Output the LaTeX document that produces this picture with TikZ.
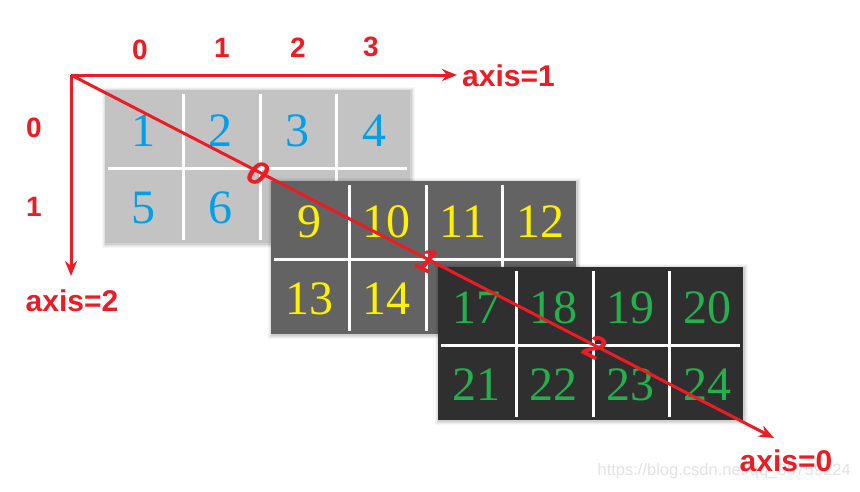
\documentclass[tikz,border=0pt]{standalone}
\usepackage{fontspec}
\setmainfont{Liberation Serif}
\newfontfamily\labfont{Liberation Sans}
\newfontfamily\wmfont{Liberation Sans}
\usetikzlibrary{arrows.meta}
\definecolor{axred}{RGB}{237,28,36}
\definecolor{pan1}{RGB}{195,195,195}
\definecolor{pan2}{RGB}{99,99,99}
\definecolor{pan3}{RGB}{47,47,47}
\definecolor{numblue}{RGB}{0,160,233}
\definecolor{numyellow}{RGB}{255,242,0}
\definecolor{numgreen}{RGB}{34,177,76}
\tikzset{
  gridline/.style={white,line width=3pt},
  numtext/.style={font=\fontsize{48}{48}\selectfont,inner sep=0pt,anchor=center},
  axisline/.style={axred,line width=3pt,-{Stealth[length=15pt,width=12pt]}},
  axislabel/.style={axred,font=\labfont\bfseries\fontsize{30}{30}\selectfont,inner sep=0pt},
  idxlabel/.style={axred,font=\labfont\bfseries\fontsize{28}{28}\selectfont,inner sep=0pt},
  diaglabel/.style={axred,font=\labfont\bfseries\itshape\fontsize{34}{34}\selectfont,inner sep=0pt,rotate=-27},
  watermark/.style={gray!22,font=\wmfont\fontsize{16.5}{16.5}\selectfont,inner sep=0pt}
}
\begin{document}
\begin{tikzpicture}[x=1pt,y=-1pt]
\useasboundingbox[fill=white] (0,0) rectangle (860,491);
\foreach \px/\py/\fc/\tc/\n in {105/90/pan1/numblue/1,271/181/pan2/numyellow/9,438/267/pan3/numgreen/17}{
  % soft shadow
  \foreach \s/\o in {4/0.03,3/0.04,2/0.05,1/0.07}{
    \fill[black,opacity=\o] (\px-\s+1,\py-\s+1) rectangle (\px+305+\s+1,\py+153+\s+1);
  }
  \fill[\fc] (\px,\py) rectangle (\px+305,\py+153);
  \foreach \gx in {78,155,231}{
    \draw[gridline] (\px+\gx,\py+4) -- (\px+\gx,\py+150);
  }
  \draw[gridline] (\px+3,\py+78) -- (\px+302,\py+78);
  \foreach \r in {0,1}{
    \foreach \c in {0,1,2,3}{
      \pgfmathtruncatemacro\v{\n+4*\r+\c}
      \node[numtext,text=\tc] (num\v) at (\px+38+77*\c,\py+41+77*\r) {\v};
    }
  }
}
% axes
\coordinate (O) at (71,75);
\coordinate (E1) at (457,75);
\coordinate (E2) at (71,276);
\coordinate (E0) at (774,438);
\draw[axisline] (O) -- (E1);
\draw[axisline] (O) -- (E2);
\draw[axisline] (O) -- (E0);
\node[watermark,anchor=east] (wm) at (851,471) {https://blog.csdn.net/qq\_36759224};
\node[axislabel,anchor=west] (lab1) at (462,76) {axis=1};
\node[axislabel] (lab2) at (72,301) {axis=2};
\node[axislabel] (lab0) at (786,461) {axis=0};
% index labels
\node[idxlabel] (c0) at (140,50) {0};
\node[idxlabel] (c1) at (222,48) {1};
\node[idxlabel] (c2) at (298,48) {2};
\node[idxlabel] (c3) at (371,47) {3};
\node[idxlabel] (r0) at (34,128) {0};
\node[idxlabel] (r1) at (34,207) {1};
\node[diaglabel] (d0) at (258,173) {0};
\node[diaglabel] (d1) at (427,260) {1};
\node[diaglabel] (d2) at (595,347) {2};
\end{tikzpicture}
\end{document}
